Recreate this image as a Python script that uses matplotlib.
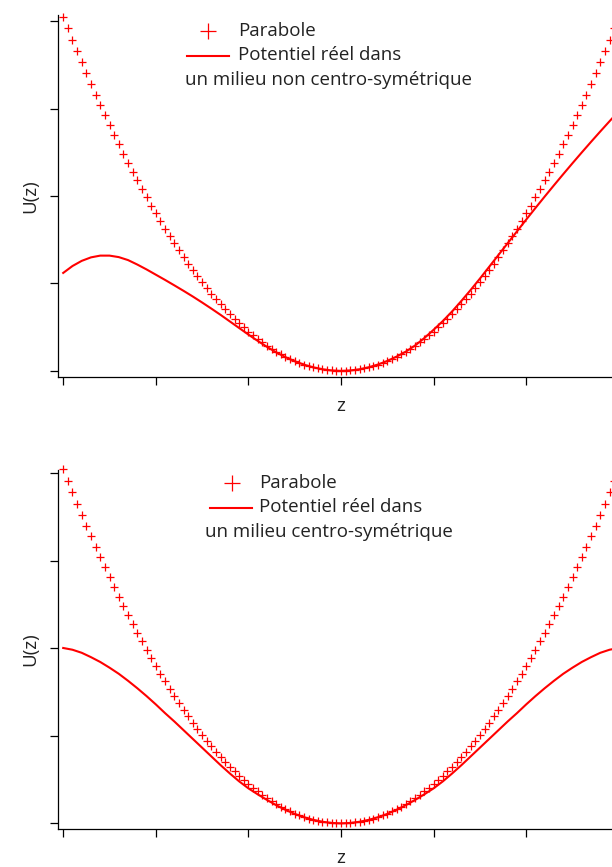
import numpy as np
import matplotlib
matplotlib.use("Agg")
import matplotlib.pyplot as plt
from matplotlib.lines import Line2D

plt.rcParams['font.family'] = ['Open Sans', 'DejaVu Sans']

# Parabole : points tous les 0.05 entre z = -3 et z = 3
z_par = np.linspace(-3.0, 3.0, 121)
u_par = [
    4.0500, 3.9161, 3.7845, 3.6551, 3.5280, 3.4031, 3.2805, 3.1601, 3.0420, 2.9261,
    2.8125, 2.7011, 2.5920, 2.4851, 2.3805, 2.2781, 2.1780, 2.0801, 1.9845, 1.8911,
    1.8000, 1.7111, 1.6245, 1.5401, 1.4580, 1.3781, 1.3005, 1.2251, 1.1520, 1.0811,
    1.0125, 0.9461, 0.8820, 0.8201, 0.7605, 0.7031, 0.6480, 0.5951, 0.5445, 0.4961,
    0.4500, 0.4061, 0.3645, 0.3251, 0.2880, 0.2531, 0.2205, 0.1901, 0.1620, 0.1361,
    0.1125, 0.0911, 0.0720, 0.0551, 0.0405, 0.0281, 0.0180, 0.0101, 0.0045, 0.0011,
    0.0000,
    0.0011, 0.0045, 0.0101, 0.0180, 0.0281, 0.0405, 0.0551, 0.0720, 0.0911, 0.1125,
    0.1361, 0.1620, 0.1901, 0.2205, 0.2531, 0.2880, 0.3251, 0.3645, 0.4061, 0.4500,
    0.4961, 0.5445, 0.5951, 0.6480, 0.7031, 0.7605, 0.8201, 0.8820, 0.9461, 1.0125,
    1.0811, 1.1520, 1.2251, 1.3005, 1.3781, 1.4580, 1.5401, 1.6245, 1.7111, 1.8000,
    1.8911, 1.9845, 2.0801, 2.1780, 2.2781, 2.3805, 2.4851, 2.5920, 2.7011, 2.8125,
    2.9261, 3.0420, 3.1601, 3.2805, 3.4031, 3.5280, 3.6551, 3.7845, 3.9161, 4.0500,
]

# Potentiels réels : points tous les 0.1 entre z = -3 et z = 3
z_pot = np.linspace(-3.0, 3.0, 61)
u_non_centro = [
    1.120, 1.199, 1.258, 1.298, 1.318, 1.318, 1.301, 1.267, 1.216, 1.160,
    1.100, 1.040, 0.978, 0.915, 0.850, 0.782, 0.712, 0.640, 0.565, 0.490,
    0.415, 0.343, 0.275, 0.212, 0.157, 0.110, 0.071, 0.040, 0.018, 0.0045,
    0.000,
    0.0045, 0.018, 0.041, 0.073, 0.113, 0.163, 0.220, 0.290, 0.375, 0.470,
    0.570, 0.680, 0.800, 0.925, 1.055, 1.190, 1.325, 1.460, 1.595, 1.730,
    1.863, 1.994, 2.123, 2.250, 2.375, 2.498, 2.619, 2.738, 2.855, 2.970,
]
u_centro = [
    2.005, 1.985, 1.950, 1.900, 1.845, 1.780, 1.710, 1.630, 1.545, 1.455,
    1.360, 1.260, 1.165, 1.065, 0.965, 0.865, 0.765, 0.665, 0.570, 0.480,
    0.400, 0.332, 0.268, 0.208, 0.155, 0.108, 0.070, 0.040, 0.018, 0.0045,
    0.000,
    0.0045, 0.018, 0.040, 0.070, 0.108, 0.155, 0.208, 0.268, 0.332, 0.400,
    0.480, 0.570, 0.665, 0.765, 0.865, 0.965, 1.065, 1.165, 1.260, 1.360,
    1.455, 1.545, 1.630, 1.710, 1.780, 1.845, 1.900, 1.950, 1.985, 2.005,
]

x_ticks = [-3, -2, -1, 0, 1, 2, 3]
y_ticks = [0, 1, 2, 3, 4]

# Le cadre de tracé déborde à droite de la figure (coupé au bord)
panels = [
    (u_non_centro, "un milieu non centro-symétrique", [0.0948, 0.5657, 0.9248, 0.4170]),
    (u_centro, "un milieu centro-symétrique", [0.0948, 0.0438, 0.9248, 0.4141]),
]

W, H = 612, 867
fig = plt.figure(figsize=(W / 100, H / 100), dpi=100)
RED = "#ff0000"
TXT = "#222222"
FS = 13.5


def fx(x):
    return x / W


def fy(y):
    return 1 - y / H


for i, (u_pot, caption, rect) in enumerate(panels):
    ax = fig.add_axes(rect)
    ax.plot(z_par, u_par, linestyle="none", marker="+", markersize=5.2,
            markeredgewidth=0.9, color=RED, clip_on=False)
    ax.plot(z_pot, u_pot, color=RED, linewidth=1.5, clip_on=False)
    ax.set_xlim(-3.056, 3.056)
    ax.set_ylim(-0.065, 4.07 if i == 0 else 4.04)
    ax.set_xticks(x_ticks)
    ax.set_yticks(y_ticks)
    ax.set_xticklabels([])
    ax.set_yticklabels([])
    ax.tick_params(direction="out", length=6, width=0.9, color="black")
    for s in ("top", "right"):
        ax.spines[s].set_visible(False)
    for s in ("left", "bottom"):
        ax.spines[s].set_linewidth(0.9)
    ax.set_xlabel("z", fontsize=FS, color=TXT, labelpad=5)
    ax.set_ylabel("U(z)", fontsize=FS, color=TXT, labelpad=4)

    # Légende dessinée à la main
    if i == 0:
        px, ly, tx = 208, 31, 238
        l0, l1 = 187, 229
        cx = 185
    else:
        px, ly, tx = 232, 483, 259
        l0, l1 = 210, 252
        cx = 205
    fig.add_artist(Line2D([fx(px)], [fy(ly)], marker="+", markersize=11,
                          markeredgewidth=0.9, color=RED, linestyle="none"))
    fig.add_artist(Line2D([fx(l0), fx(l1)], [fy(ly + 24.5)] * 2,
                          color=RED, linewidth=1.5))
    fig.text(fx(tx), fy(ly), "Parabole", fontsize=FS, va="center", ha="left",
             color=TXT)
    fig.text(fx(tx), fy(ly + 24.5), "Potentiel réel dans", fontsize=FS,
             va="center", ha="left", color=TXT)
    fig.text(fx(cx), fy(ly + 49), caption, fontsize=FS, va="center",
             ha="left", color=TXT)

fig.savefig("out.png", dpi=100)
